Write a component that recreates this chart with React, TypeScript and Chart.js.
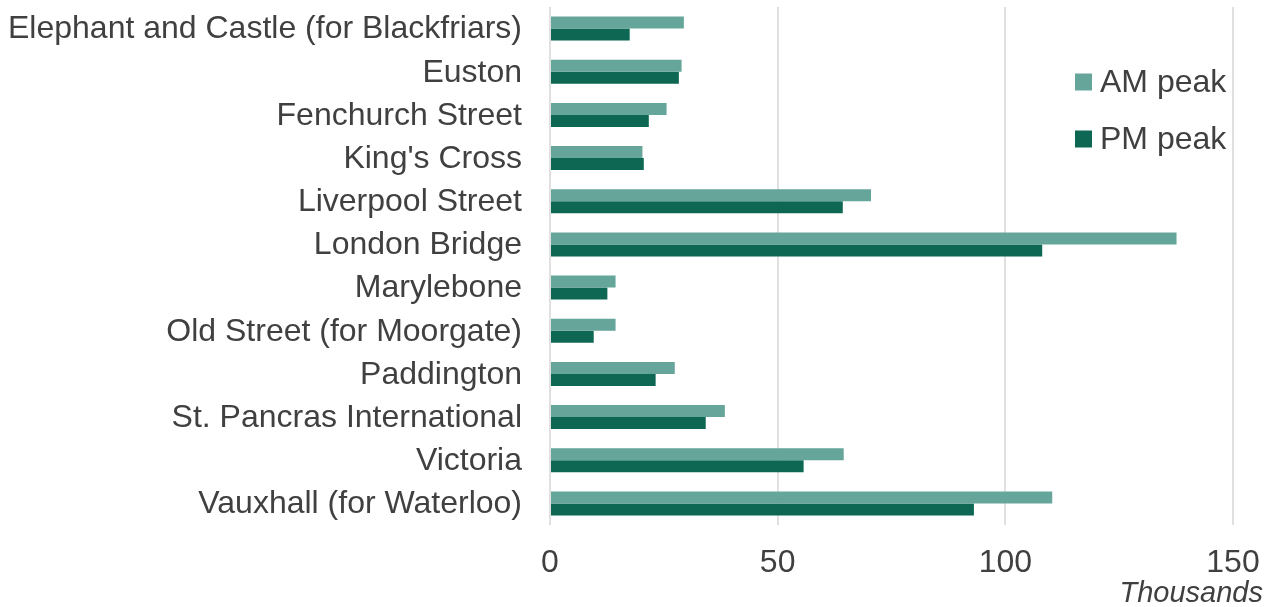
import React, { useEffect, useRef } from "react";
import { Chart, registerables } from "chart.js";

Chart.register(...registerables);

const categories = [
  "Elephant and Castle (for Blackfriars)",
  "Euston",
  "Fenchurch Street",
  "King's Cross",
  "Liverpool Street",
  "London Bridge",
  "Marylebone",
  "Old Street (for Moorgate)",
  "Paddington",
  "St. Pancras International",
  "Victoria",
  "Vauxhall (for Waterloo)",
];

const amPeak = [29.4, 28.9, 25.6, 20.3, 70.5, 137.6, 14.4, 14.4, 27.4, 38.4, 64.5, 110.3];
const pmPeak = [17.5, 28.3, 21.7, 20.6, 64.3, 108.1, 12.6, 9.6, 23.2, 34.2, 55.7, 93.1];

const xTicks = [0, 50, 100, 150];
const seriesNames = ["AM peak", "PM peak"];
const axisUnit = "Thousands";

const AM_COLOR = "#66a59a";
const PM_COLOR = "#0d6753";
const TEXT_COLOR = "#404040";
const FONT = "'Liberation Sans', Arial, sans-serif";

const overlayPlugin = {
  id: "overlay",
  afterDraw(chart: any) {
    const ctx = chart.ctx;
    ctx.save();
    ctx.font = `32px ${FONT}`;
    ctx.fillStyle = TEXT_COLOR;
    ctx.textBaseline = "middle";
    ctx.textAlign = "left";
    const colors = [AM_COLOR, PM_COLOR];
    const ys = [82, 139];
    seriesNames.forEach((name, i) => {
      ctx.fillStyle = colors[i];
      ctx.fillRect(1075, ys[i] - 8.5, 17, 17);
      ctx.fillStyle = TEXT_COLOR;
      ctx.fillText(name, 1100, ys[i] + 1);
    });
    ctx.font = `italic 29px ${FONT}`;
    ctx.textAlign = "right";
    ctx.fillText(axisUnit, 1263, 594);
    ctx.restore();
  },
};

export default function App() {
  const ref = useRef<HTMLCanvasElement | null>(null);

  useEffect(() => {
    if (!ref.current) return;
    const chart = new Chart(ref.current, {
      type: "bar",
      data: {
        labels: categories,
        datasets: [
          {
            label: seriesNames[0],
            data: amPeak,
            backgroundColor: AM_COLOR,
            categoryPercentage: 0.556,
            barPercentage: 1,
          },
          {
            label: seriesNames[1],
            data: pmPeak,
            backgroundColor: PM_COLOR,
            categoryPercentage: 0.556,
            barPercentage: 1,
          },
        ],
      },
      options: {
        indexAxis: "y",
        animation: false,
        responsive: false,
        maintainAspectRatio: false,
        layout: { padding: { top: 7, right: 37, left: 0, bottom: 0 } },
        plugins: {
          legend: { display: false },
          tooltip: { enabled: false },
        },
        scales: {
          x: {
            min: 0,
            max: 150,
            afterBuildTicks: (scale: any) => {
              scale.ticks = xTicks.map((v) => ({ value: v }));
            },
            grid: {
              color: "#e0e0e0",
              lineWidth: 2,
              drawTicks: false,
            },
            border: { display: false },
            ticks: {
              color: TEXT_COLOR,
              font: { family: FONT, size: 32 },
              padding: 19,
              maxRotation: 0,
            },
            afterFit: (scale: any) => {
              scale.height = 82;
              scale.paddingLeft = 0;
              scale.paddingRight = 0;
            },
          },
          y: {
            grid: { display: false, drawTicks: false },
            border: { display: false },
            ticks: {
              color: TEXT_COLOR,
              font: { family: FONT, size: 32 },
              padding: 28,
              labelOffset: 1,
              autoSkip: false,
            },
            afterFit: (scale: any) => {
              scale.width = 550;
              scale.paddingTop = 0;
              scale.paddingBottom = 0;
            },
          },
        },
      },
      plugins: [overlayPlugin],
    } as any);
    return () => chart.destroy();
  }, []);

  return (
    <div style={{ position: "fixed", left: 0, top: 0, width: 1270, height: 607, background: "#fff" }}>
      <canvas ref={ref} width={1270} height={607} style={{ display: "block" }} />
    </div>
  );
}
